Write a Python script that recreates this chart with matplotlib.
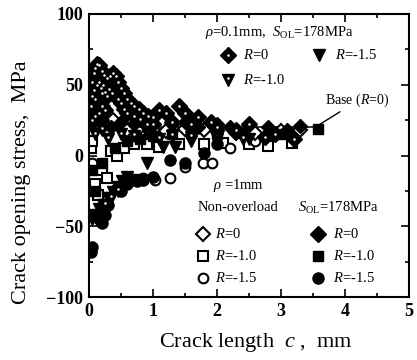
import matplotlib
matplotlib.use("Agg")
import matplotlib.pyplot as plt
from matplotlib.ticker import MultipleLocator

plt.rcParams['font.family'] = ['Liberation Serif', 'DejaVu Serif']
plt.rcParams['mathtext.fontset'] = 'custom'
plt.rcParams['mathtext.rm'] = 'Liberation Serif'
plt.rcParams['mathtext.it'] = 'Liberation Serif:italic'
plt.rcParams['mathtext.bf'] = 'Liberation Serif:bold'

# rho=0.1mm, S_OL=178MPa
c01_R0 = [0.05,0.08,0.10,0.13,0.16,0.20,0.24,0.28,0.33,0.38,0.42,0.46,0.50,0.55,0.60,0.65,0.70,0.78,0.85,0.92,1.00,1.10,1.20,1.40,1.50,1.70,1.90,
          0.03,0.05,0.08,0.10,0.12,0.15,0.18,0.20,0.22,0.25,0.28,0.32,0.36,0.15,0.10,0.05,0.20,0.25,0.45,0.50,0.55,0.60,0.70,0.80,0.90,1.00,1.30,1.60,2.00,2.30,2.50,2.75,2.90,3.20]
s01_R0 = [52,58,62,65,64,60,57,55,56,58,56,52,48,44,40,37,35,33,30,28,27,32,30,35,30,27,24,
          35,42,46,40,50,52,48,44,50,45,42,47,44,30,28,25,35,32,40,37,33,30,28,26,22,22,24,22,20,18,22,13,15,12]
c01_R10 = [0.10,0.20,0.30,0.50,0.70,0.90,1.10,1.30,1.60,2.00,2.40,0.25,0.35,0.45]
s01_R10 = [15,18,12,15,14,16,12,14,13,14,12,-35,-30,-25]
c01_R15 = [0.05,0.10,0.15,0.22,0.30,0.38,0.45,0.52,0.60,0.70,0.90,1.16,1.35,1.60,2.00,2.50]
s01_R15 = [-45,-42,-38,-35,-30,-26,-22,-18,-15,-17,-5,6,6,10,12,12]

# rho=1mm, non-overload
c1_R0 = [0.10,0.20,0.38,0.60,0.80,1.00,1.20,1.50,1.80,2.00,2.30,2.60,3.00,3.30]
s1_R0 = [22,20,25,18,20,18,17,19,18,17,16,16,17,18]
c1_R10 = [0.03,0.05,0.08,0.10,0.14,0.20,0.28,0.35,0.44,0.55,0.70,0.90,1.10,1.40,1.80,2.10,2.50,2.80,3.17]
s1_R10 = [5,10,-8,-20,-28,-10,-16,3,0,5,8,8,6,8,8,9,8,7,9]
c1_R15 = [0.05,0.55,0.70,0.85,1.03,1.27,1.50,1.78,1.92,2.20,2.60]
s1_R15 = [-5,-18,-17,-16,-17,-16,-8,-5,-5,5,10]

# rho=1mm, S_OL=178MPa
c1o_R0 = [0.20,0.35,0.50,0.70,0.90,1.00,1.30,1.50,1.70,2.00,2.20,2.50,2.80,3.10,3.30]
s1o_R0 = [25,20,24,22,25,22,22,24,20,22,20,22,20,18,21]
c1o_R10 = [0.05,0.10,0.20,0.40,0.60,0.80,1.00,1.30,1.60,2.00,2.40,3.00,3.58]
s1o_R10 = [-10,-25,-5,5,10,12,14,15,16,15,16,15,19]
c1o_R15 = [0.03,0.05,0.15,0.20,0.25,0.30,0.50,0.60,0.75,0.85,1.00,1.27,1.50,1.80,2.00]
s1o_R15 = [-68,-65,-45,-48,-42,-35,-25,-20,-18,-17,-15,-3,-5,2,8]

base_c = [0.2, 3.58]
base_s = [20, 20]

fig = plt.figure(figsize=(4.17, 3.6), dpi=100)
ax = fig.add_axes([89/417, 1-297/360, 320/417, 283/360])

msd = 8.5   # diamonds
mss = 7     # squares / circles
mst = 8.5   # triangles
dot = dict(marker='o', color='white', ms=1.8, mew=0, ls='none')
ax.plot(base_c, base_s, color='black', lw=1.1, zorder=1)
ax.plot(c1_R10, s1_R10, 's', mfc='white', mec='black', mew=1.5, ms=mss, ls='none', zorder=2)
ax.plot(c1_R15, s1_R15, 'o', mfc='white', mec='black', mew=1.5, ms=mss, ls='none', zorder=2)
ax.plot(c1_R0, s1_R0, 'D', mfc='white', mec='black', mew=1.5, ms=msd-1, ls='none', zorder=2)
ax.plot(c1o_R10, s1o_R10, 's', color='black', ms=mss, ls='none', zorder=3)
ax.plot(c1o_R15, s1o_R15, 'o', color='black', ms=mss+1, ls='none', zorder=3)
ax.plot(c1o_R0, s1o_R0, 'D', color='black', ms=msd-1, ls='none', zorder=3)
ax.plot(c01_R15, s01_R15, 'v', color='black', ms=mst, ls='none', zorder=3)
ax.plot(c01_R10, s01_R10, 'v', color='black', ms=mst, ls='none', zorder=3)
ax.plot(c01_R10, [s + 1.2 for s in s01_R10], zorder=3.5, **dot)
ax.plot(c01_R0, s01_R0, 'D', color='black', ms=msd, ls='none', zorder=4)
ax.plot(c01_R0, s01_R0, zorder=4.5, **dot)

ax.annotate('Base ($R$=0)', xy=(3.57, 21), xytext=(3.69, 39), fontsize=10,
            va='center', ha='left',
            arrowprops=dict(arrowstyle='-', color='black', lw=1.0, shrinkA=0, shrinkB=0,
                            relpos=(0.3, 0)))

fs = 10.5
ax.text(1.81, 86.6, r'$\it{\rho}$=0.1mm,  $S_{\rm OL}$=178MPa', fontsize=fs, va='center', ha='left')
# legend rho=0.1
ax.plot([2.17], [71], 'D', color='black', ms=msd)
ax.plot([2.17], [71], **dot)
ax.text(2.40, 71, '$R$=0', fontsize=fs, va='center')
ax.plot([3.59], [71], 'v', color='black', ms=mst)
ax.text(3.84, 71, '$R$=-1.5', fontsize=fs, va='center')
ax.plot([2.17], [53.4], 'v', color='black', ms=mst)
ax.plot([2.17], [54.6], **dot)
ax.text(2.40, 53.4, '$R$=-1.0', fontsize=fs, va='center')

ax.text(1.94, -21, r'$\it{\rho}$ =1mm', fontsize=fs, va='center')
ax.text(1.70, -37, 'Non-overload', fontsize=fs, va='center')
ax.text(3.27, -37, r'$S_{\rm OL}$=178MPa', fontsize=fs, va='center')
rows = [-55.5, -71, -86.6]
labs = ['$R$=0', '$R$=-1.0', '$R$=-1.5']
mk = ['D', 's', 'o']
for y, l, m in zip(rows, labs, mk):
    ax.plot([1.78], [y], m, mfc='white', mec='black', mew=1.5, ms=mss)
    ax.text(1.97, y, l, fontsize=fs, va='center')
    ax.plot([3.58], [y], m, color='black', ms=mss + (1 if m != 's' else 0))
    ax.text(3.81, y, l, fontsize=fs, va='center')

ax.set_xlim(0, 5)
ax.set_ylim(-100, 100)
ax.set_xticks([0, 1, 2, 3, 4, 5])
ax.set_yticks([-100, -50, 0, 50, 100])
ax.xaxis.set_minor_locator(MultipleLocator(0.5))
ax.yaxis.set_minor_locator(MultipleLocator(25))
ax.tick_params(which='both', direction='in', top=True, right=True, width=1.2)
ax.tick_params(which='major', length=6, labelsize=13, pad=4)
ax.tick_params(which='minor', length=3)
for lab in ax.get_xticklabels() + ax.get_yticklabels():
    lab.set_fontweight('bold')
for sp in ax.spines.values():
    sp.set_linewidth(1.5)

fig.text(22/417, 1-182/360, 'Crack opening stress,  MPa', rotation=90, fontsize=16,
         ha='center', va='center')
fig.text(256/417, 1-343/360, r'Crack length  $\it{c}$ ,  mm', fontsize=16,
         ha='center', va='center')

fig.savefig('out.png', dpi=100)
